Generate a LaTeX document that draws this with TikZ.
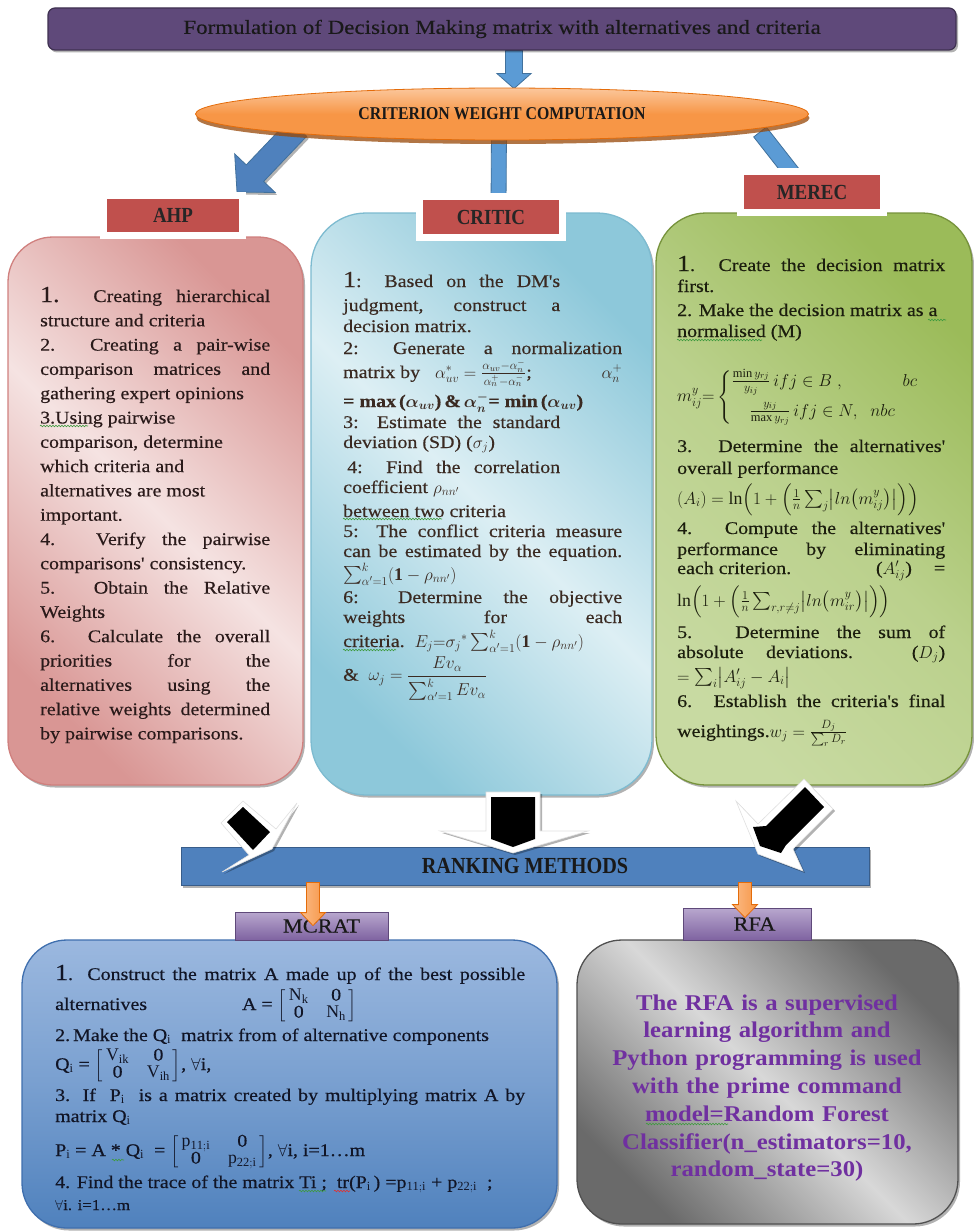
\documentclass[tikz,border=0pt]{standalone}
\usepackage{amsmath,amssymb}
\usepackage{fontspec}
\setmainfont{Liberation Serif}
\newfontfamily\bodyf[FakeStretch=1.12,FakeBold=0.4]{Liberation Serif}
\newfontfamily\labf[FakeStretch=0.88]{Liberation Serif}
\newfontfamily\titf[FakeStretch=1.15,FakeBold=0.3]{Liberation Serif}
\newfontfamily\rfaf[FakeStretch=1.1]{Liberation Serif}
\usetikzlibrary{calc,shapes.geometric,shadows,decorations.pathmorphing}
\pgfdeclarelayer{bg}
\pgfsetlayers{bg,main}

\definecolor{titFill}{HTML}{5F497A}
\definecolor{titDraw}{HTML}{3F3151}
\definecolor{arrBlue}{HTML}{5B9BD5}
\definecolor{arrBlueD}{HTML}{41719C}
\definecolor{arrBlue2}{HTML}{4F81BD}
\definecolor{ellTop}{HTML}{FBC79C}
\definecolor{ellMid}{HTML}{F79646}
\definecolor{ellDraw}{HTML}{E46C0A}
\definecolor{ellShadow}{HTML}{984807}
\definecolor{labRed}{HTML}{C0504D}
\definecolor{ahpD}{HTML}{D99694}
\definecolor{ahpL}{HTML}{F5E3E2}
\definecolor{ahpDraw}{HTML}{D0807E}
\definecolor{crD}{HTML}{8DC8DA}
\definecolor{crL}{HTML}{DDEFF4}
\definecolor{crDraw}{HTML}{7DBBD0}
\definecolor{meD}{HTML}{9BBB59}
\definecolor{meL}{HTML}{C8DAA2}
\definecolor{meDraw}{HTML}{77933C}
\definecolor{rankFill}{HTML}{4F81BD}
\definecolor{rankDraw}{HTML}{385D8A}
\definecolor{purT}{HTML}{B8A7CE}
\definecolor{purB}{HTML}{7F63A1}
\definecolor{purDraw}{HTML}{5F497A}
\definecolor{mcT}{HTML}{9BB8DF}
\definecolor{mcB}{HTML}{4F81BD}
\definecolor{mcDraw}{HTML}{3F6FAE}
\definecolor{gyD}{HTML}{6A6A6A}
\definecolor{gyL}{HTML}{D8D8D8}
\definecolor{gyDraw}{HTML}{505050}
\definecolor{orFill}{HTML}{F79646}
\definecolor{orDraw}{HTML}{E46C0A}
\definecolor{rfaText}{HTML}{7030A0}
\definecolor{ahpText}{HTML}{2A1A1A}
\definecolor{crText}{HTML}{3A2A22}
\definecolor{meText}{HTML}{1C1E0E}
\definecolor{mcText}{HTML}{111526}
\definecolor{spellG}{HTML}{3E9A3E}
\definecolor{spellR}{HTML}{E03030}

\newcommand{\jl}[1]{\makebox[\linewidth][s]{\spaceskip=0pt\xspaceskip=0pt #1}}
\newcommand{\jw}[2]{\makebox[#1][s]{\spaceskip=0pt\xspaceskip=0pt #2}}
\newcommand{\bignum}[1]{{\fontsize{23}{0}\selectfont #1}}
\newcommand{\zr}{\text{0}}
\newcommand{\mtx}[4]{\lineskiplimit=0pt\renewcommand{\arraystretch}{0.85}\left[\begin{array}{@{\,}c@{\quad}c@{\,}}#1&#2\\#3&#4\end{array}\right]}
% block arrow: style, from, to, shaft half width, head half width, head length
\newcommand{\blockarrow}[6]{%
  \coordinate (hb) at ($(#3)!#6!(#2)$);
  \path[#1] ($(#2)!#4!90:(#3)$) -- ($(hb)!#4!90:(#3)$) -- ($(hb)!#5!90:(#3)$) -- (#3)
    -- ($(hb)!#5!-90:(#3)$) -- ($(hb)!#4!-90:(#3)$) -- ($(#2)!#4!-90:(#3)$) -- cycle;}

\begin{document}
\begin{tikzpicture}[x=1pt,y=-1pt,
  softshadow/.style={drop shadow={shadow xshift=2pt,shadow yshift=-2.5pt,opacity=0.3,fill=black}},
  titlebox/.style={rectangle,rounded corners=7pt,fill=titFill,draw=titDraw,line width=1.2pt,inner sep=0pt,text=black!90,font=\titf\fontsize{20}{24}\selectfont,softshadow},
  redlab/.style={rectangle,fill=labRed,draw=white,line width=7pt,inner sep=0pt,text=black!85,font=\labf\bfseries\fontsize{21.5}{24}\selectfont,drop shadow={shadow xshift=2pt,shadow yshift=-3pt,opacity=0.45,fill=black}},
  panel/.style={rectangle,inner sep=0pt,line width=1.3pt,softshadow},
  ptext/.style={inner sep=0pt,anchor=base west,align=left},
  purlab/.style={rectangle,inner sep=0pt,top color=purT,bottom color=purB,draw=purDraw,line width=0.8pt,text=black!90,font=\bodyf\fontsize{20}{22}\selectfont},
  bluearr/.style={fill=arrBlue,draw=arrBlueD,line width=0.8pt},
  bluearr2/.style={fill=arrBlue2,draw=arrBlueD,line width=0.8pt,softshadow},
  orarr/.style={left color=orFill!65!white,right color=orFill,draw=orDraw,line width=0.8pt},
  wout/.style={fill=white,draw=black!12,line width=0.6pt,drop shadow={shadow xshift=2pt,shadow yshift=-2pt,opacity=0.3,fill=black}},
  bin/.style={fill=black},
  spell/.style={decorate,decoration={snake,amplitude=0.8pt,segment length=3pt},line width=0.6pt,draw=spellG}
]
\useasboundingbox (0,0) rectangle (974,1231);
\begin{pgfonlayer}{bg}
\fill[white] (0,0) rectangle (974,1231);
\end{pgfonlayer}

% ---------- top ----------
\node[titlebox,minimum width=908pt,minimum height=42pt] (title) at (502,29)
  {Formulation of Decision Making matrix with alternatives and criteria};

\node[ellipse,minimum width=613pt,minimum height=52pt,inner sep=0pt,
      top color=ellTop,bottom color=ellMid,middle color=ellMid,draw=ellDraw,line width=0.8pt,
      drop shadow={shadow xshift=1pt,shadow yshift=-4pt,fill=ellShadow,opacity=0.75},
      text=black!90,font=\labf\bfseries\fontsize{18}{20}\selectfont] (ell) at (502,114)
  {CRITERION WEIGHT COMPUTATION};

% ---------- three method panels ----------
\node[panel,rounded corners=45pt,minimum width=295pt,minimum height=548pt,
      left color=ahpD,right color=ahpD,middle color=ahpL,shading angle=135,draw=ahpDraw] (ahp) at (155.5,511) {};
\node[panel,rounded corners=55pt,minimum width=341pt,minimum height=582pt,
      left color=crD,right color=crD,middle color=crL,shading angle=135,draw=crDraw] (crit) at (481.5,504) {};
\node[panel,rounded corners=50pt,minimum width=316pt,minimum height=572pt,
      left color=meL,right color=meD,middle color=meL!70!meD,shading angle=135,draw=meDraw] (mer) at (814,499) {};

\node[redlab,minimum width=139pt,minimum height=40pt] (ahpl) at (173,215.5) {AHP};
\node[redlab,minimum width=143pt,minimum height=41pt] (critl) at (491,217) {CRITIC};
\node[redlab,minimum width=143pt,minimum height=41pt] (merl) at (812,192) {MEREC};

% blue connectors behind
\coordinate (a0s) at ([xshift=12pt]title.south);
\coordinate (a0e) at ([xshift=12pt,yshift=-1pt]ell.north);
\coordinate (a1s) at ($(ell.center)+(-204,14)$);
\coordinate (a1e) at ($(ahpl.north east)+(-9,0)$);
\coordinate (a2s) at ($(ell.center)+(-3,15)$);
\coordinate (a2e) at ($(critl.north)+(7.5,12)$);
\coordinate (a3s) at ($(ell.center)+(258,18)$);
\coordinate (a3e) at ($(merl.north)+(-16,10)$);
\begin{pgfonlayer}{bg}
\blockarrow{bluearr}{a0s}{a0e}{8.5pt}{17pt}{15pt}
\blockarrow{bluearr2}{a1s}{a1e}{12pt}{28pt}{26pt}
\blockarrow{bluearr}{a2s}{a2e}{7.5pt}{7.5pt}{0.5pt}
\blockarrow{bluearr}{a3s}{a3e}{8pt}{8pt}{0.5pt}
\end{pgfonlayer}

% ---------- AHP text ----------
\node[ptext,text width=230pt,text=ahpText,font=\bodyf\fontsize{17.8}{24.3}\selectfont] (ahpt) at (40,302) {%
\linewidth=230pt \spaceskip=0pt \xspaceskip=0pt
\jl{\bignum{1.} Creating hierarchical}\\
structure and criteria\\
\jl{2. Creating a pair-wise}\\
\jl{comparison matrices and}\\
gathering expert opinions\\
3.Using pairwise\\
comparison, determine\\
which criteria and\\
alternatives are most\\
important.\\
\jl{4. Verify the pairwise}\\
comparisons' consistency.\\
\jl{5. Obtain the Relative}\\
Weights\\
\jl{6. Calculate the overall}\\
\jl{priorities for the}\\
\jl{alternatives using the}\\
\jl{relative weights determined}\\
by pairwise comparisons.};

% ---------- CRITIC text ----------
\node[ptext,text width=279pt,text=crText,font=\bodyf\fontsize{17.8}{20}\selectfont] (critt) at (343,287) {%
\lineskiplimit=-\maxdimen \linewidth=279pt \spaceskip=0pt \xspaceskip=0pt
\jw{217pt}{\bignum{1}: Based on the DM's}\\[4pt]
\jw{217pt}{judgment, construct a}\\[1pt]
decision matrix.\\[2pt]
\jl{2: Generate a normalization}\\[4pt]
matrix by\ \ \ $\alpha^{*}_{uv}=\frac{\alpha_{uv}-\alpha_n^{-}}{\alpha_n^{+}-\alpha_n^{-}}$;\hfill$\alpha_n^{+}$\\[9pt]
{\bfseries= max\,(}$\boldsymbol{\alpha_{uv}}${\bfseries)\,\&\,}$\boldsymbol{\alpha_n^{-}}${\bfseries= min\,(}$\boldsymbol{\alpha_{uv}}${\bfseries)}\\[1pt]
\jw{217pt}{3: Estimate the standard}\\[0pt]
deviation (SD) ($\sigma_j$)\\[5pt]
\hspace*{4pt}\jw{213pt}{4: Find the correlation}\\[0pt]
coefficient $\rho_{nn'}$\\[4pt]
between two criteria\\[0pt]
\jl{5: The conflict criteria measure}\\[0pt]
\jl{can be estimated by the equation.}\\[3pt]
$\sum\nolimits_{\alpha'=1}^{k}(\mathbf{1}-\rho_{nn'})$\\[3pt]
\jl{6: Determine the objective}\\[0pt]
\jl{weights for each}\\[4pt]
criteria.\ \ $E_j{=}\sigma_j{}^{*}\sum\nolimits_{\alpha'=1}^{k}(\mathbf{1}-\rho_{nn'})$\\[4pt]
\&\ \ $\omega_j=\dfrac{Ev_\alpha}{\sum\nolimits_{\alpha'=1}^{k}Ev_\alpha}$};

% ---------- MEREC text ----------
\node[ptext,text width=268pt,text=meText,font=\bodyf\fontsize{17.8}{20}\selectfont] (mert) at (677,271) {%
\lineskiplimit=-\maxdimen \linewidth=268pt \spaceskip=0pt \xspaceskip=0pt
\jl{\bignum{1}. Create the decision matrix}\\[1pt]
first.\\[4pt]
2. Make the decision matrix as a\\[1pt]
normalised (M)\\[44.5pt]
$\lineskiplimit=0pt m_{ij}^{y}{=}\begin{cases}\frac{\min y_{rj}}{y_{ij}}\,ifj\in B\ ,\hspace{58pt}bc\\[6pt]\hspace{18pt}\frac{y_{ij}}{\max y_{rj}}\,ifj\in N,\ \ nbc\end{cases}$\\[30.5pt]
\jl{3. Determine the alternatives'}\\[2pt]
overall performance\\[10pt]
$(A_i) = \ln\Bigl(1+\Bigl(\frac{1}{n}\sum\nolimits_j\bigl|ln\bigl(m_{ij}^{y}\bigr)\bigr|\Bigr)\Bigr)$\\[10pt]
\jl{4. Compute the alternatives'}\\[1pt]
\jl{performance by eliminating}\\[-1pt]
\jl{each criterion.\hfill($A'_{ij}$)\hspace{22pt}=}\\[12pt]
$\ln\Bigl(1+\Bigl(\frac{1}{n}\sum\nolimits_{r,r\neq j}\bigl|ln\bigl(m_{ir}^{y}\bigr)\bigr|\Bigr)\Bigr)$\\[12pt]
\jl{5. Determine the sum of}\\[0pt]
\jl{absolute deviations. ($D_j$)}\\[4pt]
$=\sum\nolimits_i\bigl|A'_{ij}-A_i\bigr|$\\[5pt]
\jl{6. Establish the criteria's final}\\[10pt]
weightings.$w_j=\frac{D_j}{\sum_r D_r}$};

% ---------- ranking bar ----------
\node[rectangle,minimum width=688pt,minimum height=38pt,inner sep=0pt,fill=rankFill,draw=rankDraw,line width=1pt,
      text=black!90,font=\labf\bfseries\fontsize{23}{24}\selectfont,softshadow] (rank) at (525,866) {RANKING METHODS};

% black block arrows from panels to ranking bar
\path[wout] (486,792) -- (540,792) -- (540,831) -- (588,831) -- (513,853) -- (440,831) -- (486,831) -- cycle;
\path[bin] (491,797) -- (535,797) -- (535,839) -- (513,847) -- (491,839) -- cycle;
\path[wout] (221,823) -- (243,801) -- (276,829) -- (297,803) -- (272,849) -- (222,872) -- (249,855) -- cycle;
\path[bin] (227,822) -- (243,807) -- (270,832) -- (253,850) -- cycle;
\path[wout] (804,779) -- (833,809) -- (793,849) -- (803,871) -- (758,854) -- (736,801) -- (758,824) -- cycle;
\path[bin] (805,787) -- (824,807) -- (786,845) -- (781,853) -- (760,846) -- (753,827) -- (766,826) -- cycle;

% ---------- bottom panels ----------
\node[panel,rounded corners=45pt,minimum width=535pt,minimum height=288pt,
      top color=mcT,bottom color=mcB,middle color=mcT!55!mcB,draw=mcDraw] (mcr) at (289.5,1084) {};
\node[panel,rounded corners=45pt,minimum width=381pt,minimum height=284pt,
      left color=gyD,right color=gyD,middle color=gyL,shading angle=135,draw=gyDraw] (rfa) at (767.5,1082) {};

\node[purlab,minimum width=153pt,minimum height=28pt] (mcrl) at (311.5,926) {\hspace*{20pt}\raisebox{-3.5pt}{MCRAT}};
\node[purlab,minimum width=128pt,minimum height=32pt] (rfal) at (747,924) {\hspace*{15pt}\raisebox{-4.5pt}{RFA}};

\coordinate (o1s) at ($(rank.south)+(-212,-3)$);
\coordinate (o1e) at ($(mcrl.north)+(1.5,14)$);
\coordinate (o2s) at ($(rank.south)+(220,-3)$);
\coordinate (o2e) at ($(rfal.north)+(-2,10)$);
\blockarrow{orarr}{o1s}{o1e}{6.5pt}{12.5pt}{13pt}
\blockarrow{orarr}{o2s}{o2e}{6.5pt}{12.5pt}{13pt}

% ---------- MCRAT text ----------
\node[ptext,text width=470pt,text=mcText,font=\bodyf\fontsize{17.8}{20}\selectfont] (mcrt) at (55,980) {%
\lineskiplimit=-\maxdimen \linewidth=470pt \spaceskip=0pt \xspaceskip=0pt
\jl{\bignum{1}. Construct the matrix A made up of the best possible}\\[10pt]
alternatives\hspace{95pt}A = $\mtx{\mathrm{N_k}}{\zr}{\zr}{\mathrm{N_h}}$\\[11pt]
2.\,Make the Q$_\mathrm{i}$\ \ matrix from of alternative components\\[9pt]
Q$_\mathrm{i}$ = $\mtx{\mathrm{V_{ik}}}{\zr}{\zr}{\mathrm{V_{ih}}}$, $\forall$i,\\[11pt]
\jl{3. If\ \ P$_\mathrm{i}$\ \ is a matrix created by multiplying matrix A by}\\[1pt]
matrix Q$_\mathrm{i}$\\[14pt]
P$_\mathrm{i}$ = A * Q$_\mathrm{i}$\ \ = $\mtx{\mathrm{p_{11;i}}}{\zr}{\zr}{\mathrm{p_{22;i}}}$, $\forall$i, i=1\ldots m\\[12pt]
4. Find the trace of the matrix Ti ;\ \ tr(P$_\mathrm{i}$\,) =p$_\mathrm{11;i}$ + p$_\mathrm{22;i}$\ \ ;\\[2pt]
{\fontsize{15}{16}\selectfont $\forall$i. i=1\ldots m}};

% ---------- RFA text ----------
\node[inner sep=0pt,anchor=base,align=center,text width=380pt,text=rfaText,
      font=\rfaf\bfseries\fontsize{22.5}{27.8}\selectfont] (rfat) at (767,1010) {%
The RFA is a supervised\\
learning algorithm and\\
Python programming is used\\
with the prime command\\
model=Random Forest\\
Classifier(n\_estimators=10,\\
random\_state=30)};

% ---------- spell-check wavy underlines shown in the picture ----------
\draw[spell] (40,426) -- (88,426);
\draw[spell] (343,519) -- (442,519);
\draw[spell] (343,650) -- (396,650);
\draw[spell] (928,320) -- (946,320);
\draw[spell] (677,340) -- (762,340);
\draw[spell] (112,1160) -- (124,1160);
\draw[spell] (299,1191) -- (326,1191);
\draw[spell,draw=spellR] (334,1191) -- (350,1191);
\draw[spell] (646,1124) -- (728,1124);
\end{tikzpicture}
\end{document}
